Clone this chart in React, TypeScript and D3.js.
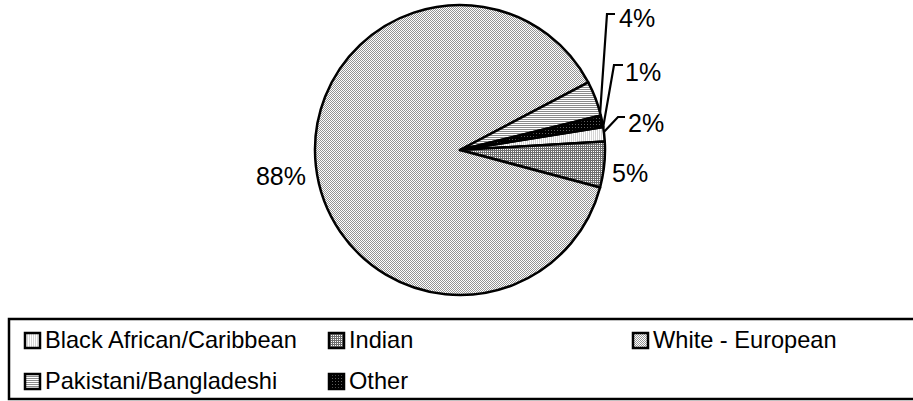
import React, { useEffect, useRef } from 'react';
import * as d3 from 'd3';

// Ethnic group shares (percent)
const categories = ['Black African/Caribbean', 'Indian', 'White - European', 'Pakistani/Bangladeshi', 'Other'];
const shares = [1.6, 5.1, 88.1, 3.9, 1.3];
const percentLabels = ['2%', '5%', '88%', '4%', '1%'];
const patternIds = ['pat-black', 'pat-indian', 'pat-white', 'pat-pak', 'pat-other'];

const App: React.FC = () => {
    const chartRef = useRef<SVGSVGElement>(null);

    useEffect(() => {
        if (!chartRef.current) return;

        // Clear previous chart
        d3.select(chartRef.current).selectAll('*').remove();

        const width = 913;
        const height = 401;
        const cx = 460;
        const cy = 150;
        const radius = 145;
        const font = '"Liberation Sans", Arial, sans-serif';

        const svg = d3.select(chartRef.current)
            .attr('width', width)
            .attr('height', height);

        // Fill patterns (Excel-style black & white hatches)
        const defs = svg.append('defs');
        const makePattern = (id: string, w: number, h: number, bg: string, cells: [number, number, number, number, string][]) => {
            const p = defs.append('pattern')
                .attr('id', id)
                .attr('patternUnits', 'userSpaceOnUse')
                .attr('width', w)
                .attr('height', h);
            p.append('rect').attr('width', w).attr('height', h).attr('fill', bg);
            cells.forEach(([x, y, cw, ch, c]) => {
                p.append('rect')
                    .attr('x', x).attr('y', y)
                    .attr('width', cw).attr('height', ch)
                    .attr('fill', c)
                    .attr('shape-rendering', 'crispEdges');
            });
        };
        makePattern('pat-white', 2, 2, '#ffffff', [[0, 0, 1, 1, '#949494'], [1, 1, 1, 1, '#949494']]);
        makePattern('pat-pak', 2, 2, '#ffffff', [[0, 1, 2, 1, '#8a8a8a']]);
        makePattern('pat-other', 3, 3, '#000000', [[1, 1, 1, 1, '#606060']]);
        makePattern('pat-black', 2, 2, '#ffffff', [[1, 0, 1, 2, '#d4d4d4']]);
        makePattern('pat-indian', 2, 2, '#ffffff', [[0, 0, 2, 1, '#6e6e6e'], [0, 1, 1, 1, '#6e6e6e']]);

        // Pie layout, first slice starts just above the 3 o'clock line
        const startAngle = (80.9 * Math.PI) / 180;
        const pie = d3.pie<number>()
            .sort(null)
            .startAngle(startAngle)
            .endAngle(startAngle + 2 * Math.PI);
        const arcs = pie(shares);

        const arc = d3.arc<d3.PieArcDatum<number>>()
            .innerRadius(0)
            .outerRadius(radius);

        const g = svg.append('g').attr('transform', `translate(${cx},${cy})`);

        g.selectAll('path.slice')
            .data(arcs)
            .enter()
            .append('path')
            .attr('class', 'slice')
            .attr('d', arc)
            .attr('fill', (_d, i) => `url(#${patternIds[i]})`)
            .attr('stroke', '#000')
            .attr('stroke-width', 2.5)
            .attr('stroke-linejoin', 'round');

        // Label placement: text anchor point, and optional leader (t = position within slice)
        const labelLayout = [
            { x: 628, y: 132, anchor: 'start', leader: { t: 0.34, elbowX: 618, elbowY: 117, endX: 625 } },
            { x: 612, y: 182, anchor: 'start', leader: null },
            { x: 306, y: 185, anchor: 'end', leader: null },
            { x: 619, y: 27, anchor: 'start', leader: { t: 0.92, elbowX: 607, elbowY: 14, endX: 615 } },
            { x: 625, y: 81, anchor: 'start', leader: { t: 1.0, elbowX: 614, elbowY: 65, endX: 623 } },
        ];

        arcs.forEach((a, i) => {
            const lay = labelLayout[i];
            if (lay.leader) {
                const ang = a.startAngle + lay.leader.t * (a.endAngle - a.startAngle);
                const sx = cx + radius * Math.sin(ang);
                const sy = cy - radius * Math.cos(ang);
                svg.append('polyline')
                    .attr('points', `${sx},${sy} ${lay.leader.elbowX},${lay.leader.elbowY} ${lay.leader.endX},${lay.leader.elbowY}`)
                    .attr('fill', 'none')
                    .attr('stroke', '#000')
                    .attr('stroke-width', 2.2);
            }
            svg.append('text')
                .attr('x', lay.x)
                .attr('y', lay.y)
                .attr('text-anchor', lay.anchor)
                .attr('font-family', font)
                .attr('font-size', '25px')
                .attr('fill', '#000')
                .text(percentLabels[i]);
        });

        // Legend box
        svg.append('rect')
            .attr('x', 9)
            .attr('y', 319)
            .attr('width', 920)
            .attr('height', 80)
            .attr('fill', '#fff')
            .attr('stroke', '#000')
            .attr('stroke-width', 2.5);

        const colX = d3.scaleLinear().domain([0, 2]).range([24, 632]);
        const rowY = d3.scaleLinear().domain([0, 1]).range([348, 389]);

        const legend = svg.selectAll('g.legend-item')
            .data(categories)
            .enter()
            .append('g')
            .attr('class', 'legend-item')
            .attr('transform', (_d, i) => `translate(${colX(i % 3)},${rowY(Math.floor(i / 3))})`);

        legend.append('rect')
            .attr('x', 1)
            .attr('y', -15)
            .attr('width', 15)
            .attr('height', 15)
            .attr('fill', (_d, i) => `url(#${patternIds[i]})`)
            .attr('stroke', '#000')
            .attr('stroke-width', 2.5);

        legend.append('text')
            .attr('x', 21)
            .attr('y', 0)
            .attr('font-family', font)
            .attr('font-size', '23.6px')
            .attr('fill', '#000')
            .text(d => d);
    }, []);

    return (
        <svg ref={chartRef} width="913" height="401" style={{ position: 'absolute', left: 0, top: 0 }}></svg>
    );
};

export default App;
